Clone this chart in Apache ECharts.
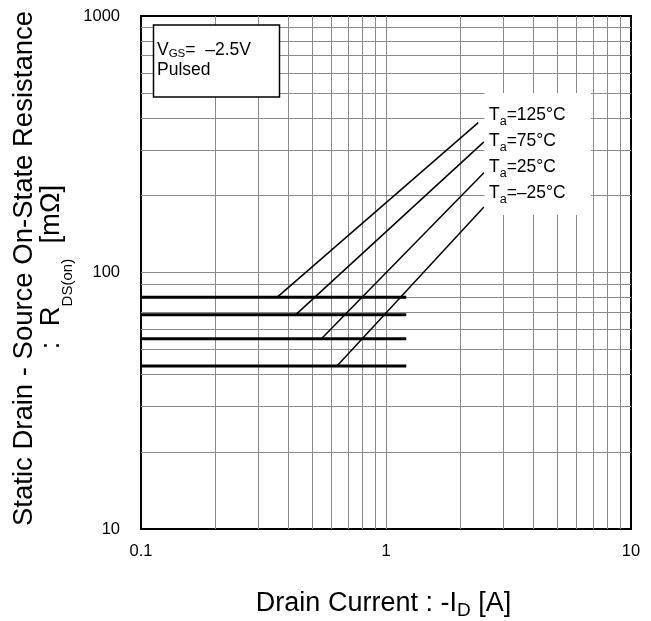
<!DOCTYPE html>
<html>
<head>
<meta charset="utf-8">
<script src="https://cdn.jsdelivr.net/npm/echarts@6/dist/echarts.min.js"></script>
<style>
html,body{margin:0;padding:0;background:#fff;}
#chart{width:651px;height:621px;}
</style>
</head>
<body>
<div id="chart"></div>
<script>
// ---- data ----
const xMin = 0.1, xMax = 10;            // Drain current -ID [A]
const yMin = 10, yMax = 1000;           // RDS(on) [mOhm]
const xMinorGrid = [0.2,0.3,0.4,0.5,0.6,0.7,0.8,0.9,1,2,3,4,5,6,7,8,9];
const yMinorGrid = [20,30,40,50,60,70,80,90,100,200,300,400,500,600,700,800,900];
const tempLabels = ['125°C', '75°C', '25°C', '–25°C'];
const plateauStartI = 0.1;
const plateauEndI = 1.21;
const plateauR = [80, 68.5, 55.2, 43.2];
const kneeI = [0.359, 0.4285, 0.545, 0.631];
const slopeEndI = [2.38, 2.51, 2.51, 2.51];
const slopeEndR = [384, 323, 245, 180];

const FONT = '"Liberation Sans", Arial, Helvetica, sans-serif';

const series = [];
// grid lines (minor decades) drawn through the library's scales
series.push({
  type: 'line', data: [], z: 1, silent: true,
  markLine: {
    z: 1, silent: true, symbol: ['none', 'none'], animation: false,
    label: { show: false },
    lineStyle: { color: '#8a8a8a', width: 1, type: 'solid' },
    emphasis: { disabled: true },
    data: xMinorGrid.map(v => ({ xAxis: v })).concat(yMinorGrid.map(v => ({ yAxis: v })))
  }
});
for (let i = 0; i < plateauR.length; i++) {
  series.push({
    name: tempLabels[i] + ' plateau', type: 'line', z: 3, showSymbol: false, silent: true,
    lineStyle: { color: '#000', width: 3 },
    data: [[plateauStartI, plateauR[i]], [plateauEndI, plateauR[i]]]
  });
  series.push({
    name: tempLabels[i] + ' slope', type: 'line', z: 3, showSymbol: false, silent: true,
    lineStyle: { color: '#000', width: 1.5 },
    data: [[kneeI[i], plateauR[i]], [slopeEndI[i], slopeEndR[i]]]
  });
}

const fmt = v => String(+Number(v).toPrecision(6));

const legendText = tempLabels.map(t => '{n|T}{s|a}{n|=' + t + '}').join('\n');

const option = {
  animation: false,
  backgroundColor: '#fff',
  grid: { left: 141, right: 20, top: 16, bottom: 92, show: true, borderColor: '#000', borderWidth: 2, backgroundColor: 'transparent' },
  xAxis: {
    type: 'log', logBase: 10, min: xMin, max: xMax,
    axisLine: { show: false }, axisTick: { show: false },
    splitLine: { show: false },
    axisLabel: { color: '#000', fontSize: 16.5, fontFamily: FONT, margin: 14, formatter: fmt }
  },
  yAxis: {
    type: 'log', logBase: 10, min: yMin, max: yMax,
    axisLine: { show: false }, axisTick: { show: false },
    splitLine: { show: false },
    axisLabel: { color: '#000', fontSize: 16.5, fontFamily: FONT, margin: 21, formatter: fmt }
  },
  series: series,
  graphic: [
    { type: 'rect', z: 10, shape: { x: 153.5, y: 25, width: 126, height: 72 },
      style: { fill: '#fff', stroke: '#000', lineWidth: 1.5 } },
    { type: 'text', z: 11, x: 157, y: 40,
      style: { text: '{n|V}{s|GS}{n|=  –2.5V}\n{n|Pulsed}', fill: '#000', align: 'left', verticalAlign: 'top',
        rich: { n: { fontSize: 17.5, lineHeight: 20, fontFamily: FONT },
                s: { fontSize: 11.5, lineHeight: 14, fontFamily: FONT, verticalAlign: 'bottom' } } } },
    { type: 'rect', z: 10, shape: { x: 484.5, y: 93, width: 106.5, height: 122 },
      style: { fill: '#fff', stroke: null } },
    { type: 'text', z: 11, x: 489, y: 102.5,
      style: { text: legendText, fill: '#000', align: 'left', verticalAlign: 'top',
        rich: { n: { fontSize: 17.5, lineHeight: 26, fontFamily: FONT },
                s: { fontSize: 12.5, lineHeight: 16, fontFamily: FONT, verticalAlign: 'bottom' } } } },
    { type: 'text', z: 11, x: 383.5, y: 588,
      style: { text: '{n|Drain Current : -I}{s|D}{n| [A]}', fill: '#000', align: 'center', verticalAlign: 'top',
        rich: { n: { fontSize: 27, lineHeight: 32, fontFamily: FONT },
                s: { fontSize: 19, lineHeight: 19, fontFamily: FONT, verticalAlign: 'bottom' } } } },
    { type: 'text', z: 11, x: 24, y: 268.5, rotation: Math.PI / 2,
      style: { text: 'Static Drain - Source On-State Resistance', fill: '#000', align: 'center', verticalAlign: 'middle',
        fontSize: 27.5, fontFamily: FONT } },
    { type: 'text', z: 11, x: 51, y: 267, rotation: Math.PI / 2,
      style: { text: '{n|:  R}{s|DS(on)}{n|  [mΩ]}', fill: '#000', align: 'center', verticalAlign: 'middle',
        rich: { n: { fontSize: 27.5, lineHeight: 48, fontFamily: FONT },
                s: { fontSize: 15, lineHeight: 14, fontFamily: FONT, verticalAlign: 'bottom' } } } }
  ]
};

const chart = echarts.init(document.getElementById('chart'), null, { renderer: 'canvas' });
chart.setOption(option);
</script>
</body>
</html>
